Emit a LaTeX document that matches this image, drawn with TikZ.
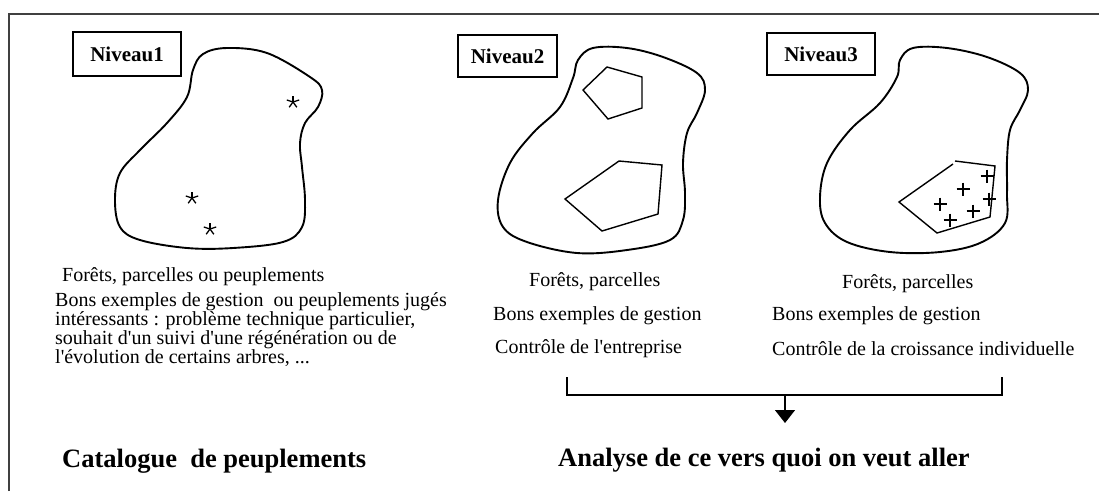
\documentclass[tikz,border=0pt]{standalone}
\usepackage{fontspec}
\setmainfont{Liberation Serif}
\usepackage{tikz}
\usetikzlibrary{arrows.meta}

\begin{document}
\begin{tikzpicture}[x=1pt, y=-1pt,
    levelbox/.style={draw, line width=1.2pt, inner sep=0pt, minimum width=108pt, minimum height=44pt, font=\bfseries\fontsize{21}{21}\selectfont},
    body/.style={inner sep=0pt, font=\fontsize{20}{19}\selectfont},
    bigtitle/.style={anchor=west, inner sep=0pt, font=\bfseries\fontsize{26.5}{26.5}\selectfont},
    zone/.style={line width=1.9pt},
    parcel/.style={line width=1.4pt},
    marker/.style={line width=1.3pt}]
    \useasboundingbox (0,0) rectangle (1099,491);
    \draw[black!75, line width=1.5pt] (9,491) -- (9,14) -- (1099,14);

    \node[levelbox] (niv1) at (127,54) {Niveau1};
    \node[levelbox, minimum width=99pt, minimum height=42pt] (niv2) at (507.5,56) {Niveau2};
    \node[levelbox, minimum height=42pt] (niv3) at (821,54) {Niveau3};

    \draw[zone] plot[smooth cycle, tension=0.6] coordinates {(227,48) (267,53) (310,77) (322,90) (318,107) (305,123) (300,143) (302,167) (305,200) (302,227) (283,242) (233,248) (187,248) (140,240) (120,227) (115,200) (120,173) (140,150) (167,123) (187,97) (193,70) (203,54)};
    \foreach \p in {(293,102),(192,198),(210,229)}
        \foreach \a in {270,342,54,126,198}
            \draw[marker] \p -- ++(\a:6.5);

    \draw[zone] plot[smooth cycle, tension=0.6] coordinates {(593,48) (627,48) (663,57) (697,73) (705,90) (697,113) (687,133) (683,163) (685,193) (683,220) (670,240) (627,250) (577,253) (527,242) (503,227) (498,200) (510,163) (533,133) (560,107) (573,78) (578,60)};
    \draw[parcel] (607,67) -- (642,77) -- (642,108) -- (608,119) -- (583,90) -- cycle;
    \draw[parcel] (619,161) -- (662,165) -- (658,214) -- (602,231) -- (565,199) -- cycle;

    \draw[zone] plot[smooth cycle, tension=0.6] coordinates {(913,48) (947,48) (987,57) (1020,73) (1028,90) (1020,110) (1010,130) (1007,160) (1007,193) (1005,223) (980,243) (940,252) (890,252) (847,242) (825,223) (820,197) (827,163) (850,130) (880,103) (897,77) (900,60)};
    \draw[parcel] (955,161) -- (995,166) -- (990,217) -- (937,233) -- (899,202) -- (953,164);
    \foreach \p in {(987,176),(963,189),(940,204),(989,199),(973,211),(950,220)}
        \draw[marker] \p ++(-6.5,0) -- ++(13,0) \p ++(0,-6.5) -- ++(0,13);

    \node[body, anchor=west] (foret1) at (62,277) {Forêts, parcelles ou peuplements};
    \node[body, anchor=north west, align=left] (para1) at (55,292) {Bons exemples de gestion\ \ ou peuplements jugés\\intéressants : problème technique particulier,\\souhait d\textquotesingle un suivi d\textquotesingle une régénération ou de\\l\textquotesingle évolution de certains arbres, ...};

    \node[body, anchor=west] (foret2) at (529,282) {Forêts, parcelles};
    \node[body, anchor=west] (gestion2) at (493,316) {Bons exemples de gestion};
    \node[body, anchor=west] (controle2) at (495,349) {Contrôle de l\textquotesingle entreprise};

    \node[body, anchor=west] (foret3) at (842,284) {Forêts, parcelles};
    \node[body, anchor=west] (gestion3) at (772,316) {Bons exemples de gestion};
    \node[body, anchor=west] (controle3) at (772,349) {Contrôle de la croissance individuelle};

    \node[bigtitle] (catalogue) at (62,461) {Catalogue\ \ de peuplements};
    \node[bigtitle] (analyse) at (558,460) {Analyse de ce vers quoi on veut aller};

    \coordinate (brL) at (567,377);
    \coordinate (brR) at (1002,377);
    \coordinate (join) at (785,395);
    \coordinate (tip) at (785,423);
    \draw[line width=1.4pt] (brL) |- (join) -| (brR);
    \draw[line width=1.4pt, -{Triangle[width=20pt, length=13pt]}] (join) -- (tip);
\end{tikzpicture}
\end{document}
